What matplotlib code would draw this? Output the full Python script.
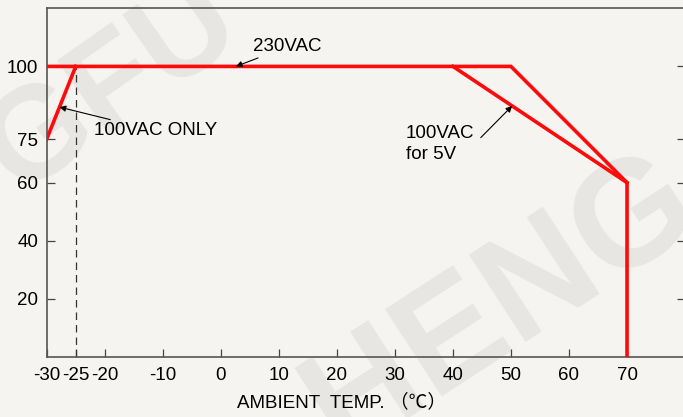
import matplotlib
matplotlib.use('Agg')
import matplotlib.pyplot as plt

# derating curve data (ambient temp in C, load in %)
temp_230 = [-30, 50, 70, 70]
load_230 = [100, 100, 60, 0]
temp_100only = [-30, -25]
load_100only = [75, 100]
temp_5v = [40, 70]
load_5v = [100, 60]

xticks = [-30, -25, -20, -10, 0, 10, 20, 30, 40, 50, 60, 70]
yticks = [20, 40, 60, 75, 100]

bg = '#f5f4f0'
red = '#ff0a0a'

plt.rcParams['font.family'] = ['Liberation Sans', 'Noto Sans CJK SC', 'DejaVu Sans']

fig = plt.figure(figsize=(6.83, 4.17), dpi=100, facecolor=bg)
ax = fig.add_axes([0.0684, 0.1439, 0.9346, 0.8362])
ax.set_facecolor(bg)

# faint watermark, kept behind everything else
wm = dict(fontweight='bold', color='#e8e6e2', ha='center', va='center',
          rotation_mode='anchor', transform=fig.transFigure, clip_on=False, zorder=0.5)
ax.text(0.165, 0.79, 'GFU', fontsize=95, rotation=35, **wm)
ax.text(0.735, 0.27, 'HENG', fontsize=108, rotation=33, **wm)

ax.plot([-25, -25], [0, 100], color='#333333', lw=0.9, ls=(0, (6, 4)), zorder=2)
ax.plot(temp_230, load_230, color=red, lw=2.6, solid_joinstyle='miter', zorder=3)
ax.plot(temp_100only, load_100only, color=red, lw=2.6, zorder=3)
ax.plot(temp_5v, load_5v, color=red, lw=2.6, zorder=3)

arrow = dict(arrowstyle='-|>', color='black', lw=0.8, mutation_scale=9, shrinkA=0, shrinkB=0)
ax.annotate('230VAC', xy=(2.6, 100), xytext=(5.6, 106.8), fontsize=13.5,
            va='center', ha='left', arrowprops=arrow)
ax.annotate('100VAC ONLY', xy=(-27.8, 86.0), xytext=(-21.8, 77.8), fontsize=13.5,
            va='center', ha='left', arrowprops=arrow)
ax.annotate('', xy=(50.2, 86.4), xytext=(44.8, 75.5), arrowprops=arrow)
ax.text(31.9, 73.4, '100VAC\nfor 5V', fontsize=13.5, va='center', ha='left', linespacing=1.3)

ax.set_xlim(-30, 80)
ax.set_ylim(0, 120)
ax.set_xticks(xticks)
ax.set_xticklabels([str(t) for t in xticks])
ax.set_yticks(yticks)
ax.set_yticklabels([str(t) for t in yticks])
ax.tick_params(direction='in', length=6, width=0.9, color='#444444', labelsize=13.5, pad=6, right=True)
ax.tick_params(axis='x', pad=7)
for s in ax.spines.values():
    s.set_color('#555555')
    s.set_linewidth(1.2)

ax.set_xlabel('AMBIENT  TEMP. （℃）', fontsize=13.5)
ax.xaxis.set_label_coords(0.462, -0.105)

fig.savefig('out.png', dpi=100, facecolor=bg)
